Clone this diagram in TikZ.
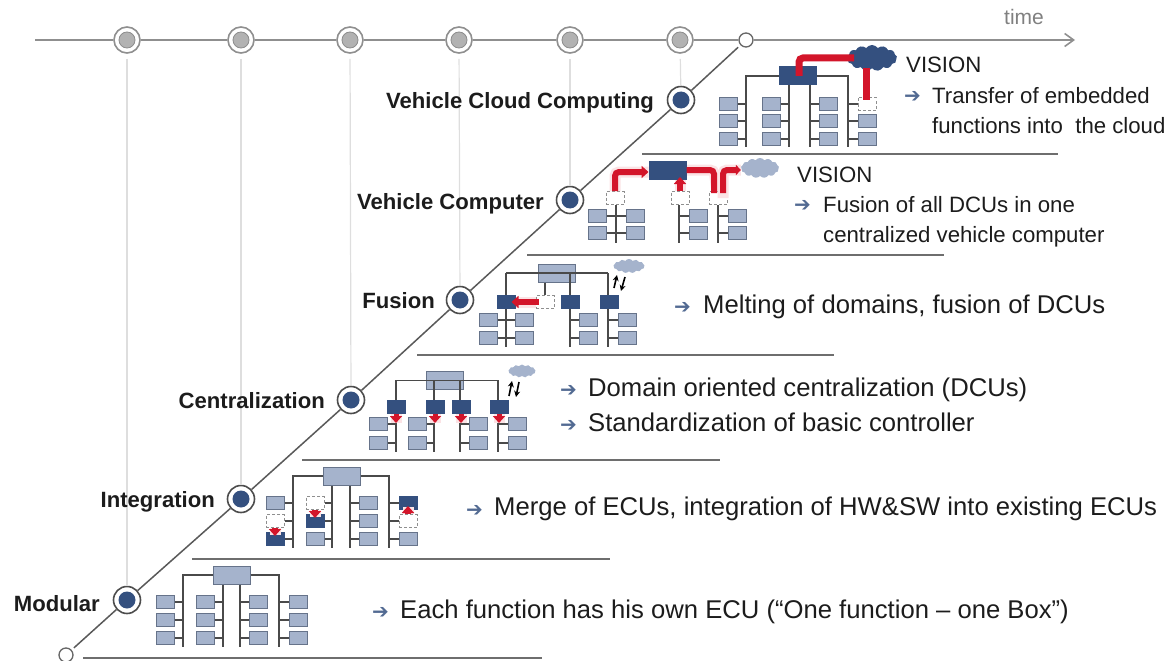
\documentclass[tikz,border=0pt]{standalone}
\usepackage{fontspec}
\setmainfont{Liberation Sans}
\newfontfamily\arrowfont{DejaVu Sans}
\usetikzlibrary{shapes.symbols,arrows.meta}
\definecolor{boxfill}{HTML}{A5B3CC}
\definecolor{boxline}{HTML}{66738A}
\definecolor{navy}{HTML}{34507F}
\definecolor{wirec}{HTML}{4A4A4A}
\definecolor{rulec}{HTML}{6E6E6E}
\definecolor{mygray}{HTML}{8F8F8F}
\definecolor{redc}{HTML}{D3152A}
\definecolor{glowc}{HTML}{FBE3E5}
\definecolor{inkc}{HTML}{1C1C1C}
\tikzset{
 x=1pt,y=-1pt,
 leaf/.style={draw=boxline,fill=boxfill,line width=1pt,minimum width=18pt,minimum height=13pt,inner sep=0pt},
 darkbox/.style={leaf,draw=navy,fill=navy},
 dashbox/.style={leaf,draw=mygray,fill=white,densely dashed},
 topbox/.style={leaf,minimum width=37pt,minimum height=18pt},
 topdark/.style={topbox,draw=navy,fill=navy},
 wire/.style={draw=wirec,line width=1.1pt},
 rulel/.style={draw=rulec,line width=1.5pt},
 guide/.style={draw=black!13,line width=1.2pt},
 tline/.style={draw=mygray,line width=1.6pt},
 diag/.style={draw=black!65,line width=1.5pt},
 tnode/.style={circle,draw=mygray,fill=white,line width=1.6pt,minimum size=26pt,inner sep=0pt},
 tdot/.style={circle,draw=black!45,fill=black!30,line width=.8pt,minimum size=16pt,inner sep=0pt},
 bnode/.style={circle,draw=black!70,fill=white,line width=1.6pt,minimum size=27pt,inner sep=0pt},
 bdot/.style={circle,fill=navy,minimum size=17pt,inner sep=0pt},
 opennode/.style={circle,draw=black!60,fill=white,line width=1.3pt,minimum size=14pt,inner sep=0pt},
 stagelabel/.style={font=\bfseries\fontsize{22.1}{24}\selectfont,text=inkc,anchor=base east,inner sep=0pt,yshift=-1pt},
 body/.style={font=\fontsize{25.65}{28}\selectfont,text=inkc,anchor=base west,inner sep=0pt,yshift=-.5pt},
 small/.style={font=\fontsize{22.2}{24}\selectfont,text=inkc,anchor=base west,inner sep=0pt,yshift=-1pt},
 bullet/.style={font=\arrowfont\bfseries\fontsize{20}{22}\selectfont,text=navy!85,anchor=base west,inner sep=0pt,yshift=-1.5pt},
 cloudn/.style={cloud,cloud puffs=13,cloud puff arc=110,aspect=2.2,inner sep=0pt,fill=boxfill,draw=none},
 redl/.style={draw=redc,line width=6pt,rounded corners=4pt},
 redar/.style={redl,-{Triangle[width=12pt,length=7pt]}},
 glow/.style={draw=glowc,line width=11pt,rounded corners=4pt},
 flip/.style={draw=black,line width=1.6pt,-{Stealth[width=6pt,length=6pt]}},
 tlab/.style={font=\fontsize{21}{23}\selectfont,text=black!50,inner sep=0pt}
}
\begin{document}
\begin{tikzpicture}
\useasboundingbox (0,0) rectangle (1168,661);
% timeline nodes
\foreach \n/\x in {1/127,2/241,3/350,4/459,5/570,6/680}{
  \node[tnode] (t\n) at (\x,40) {};
  \node[tdot] (td\n) at (t\n) {};
}
\node[opennode] (tend) at (746,40) {};
\node[opennode] (tstart) at (66,655) {};
\coordinate (ts) at (35,40);
\coordinate (te) at (1075,40);
\draw[tline] (ts) -- (t1) (t1) -- (t2) (t2) -- (t3) (t3) -- (t4) (t4) -- (t5) (t5) -- (t6) (t6) -- (tend);
\draw[tline,-{Straight Barb[length=9pt,width=13pt]}] (tend) -- (te);
\node[tlab] (timelab) at (1024,17) {time};
% stage nodes
\foreach \n/\x/\y in {1/127/600,2/241/499,3/351/400,4/460/300,5/570/200,6/681/100}{
  \node[bnode] (b\n) at (\x,\y) {};
  \node[bdot] (bd\n) at (b\n) {};
  \draw[guide,shorten <=5pt] (t\n) -- (b\n);
}
\draw[diag,shorten <=3pt] (tstart) -- (b1);
\draw[diag] (b1) -- (b2);
\draw[diag] (b2) -- (b3);
\draw[diag] (b3) -- (b4);
\draw[diag] (b4) -- (b5);
\draw[diag] (b5) -- (b6);
\draw[diag,shorten >=3pt] (b6) -- (tend);
% rules
\foreach \n/\a/\b/\y in {1/83/542/658,2/192/610/559,3/302/720/460,4/417/834/355,5/527/944/255,6/642/1058/154}{
  \coordinate (ra\n) at (\a,\y);
  \coordinate (rb\n) at (\b,\y);
  \draw[rulel] (ra\n) -- (rb\n);
}
% stage labels
\node[stagelabel] (l1) at (100,610) {Modular};
\node[stagelabel] (l2) at (215,506) {Integration};
\node[stagelabel] (l3) at (325,407) {Centralization};
\node[stagelabel] (l4) at (435,307) {Fusion};
\node[stagelabel] (l5) at (544,208) {Vehicle Computer};
\node[stagelabel] (l6) at (654,107) {Vehicle Cloud Computing};

% ---- Modular
\node[topbox] (mT) at (231.5,575) {};
\foreach \n/\x/\y in {a/183/647,b/223/647,c/240/647,d/279/647}{\coordinate (m\n) at (\x,\y);}
\draw[wire] (mT.west) -- (mT.west -| ma) -- (ma);
\draw[wire] (mT.east) -- (mT.east -| md) -- (md);
\draw[wire] (mT.south -| mb) -- (mb);
\draw[wire] (mT.south -| mc) -- (mc);
\foreach \n/\x/\y/\s/\t in {
 mA1/165/602/leaf/ma,mA2/165/620/leaf/ma,mA3/165/638/leaf/ma,
 mB1/205/602/leaf/mb,mB2/205/620/leaf/mb,mB3/205/638/leaf/mb,
 mC1/258/602/leaf/mc,mC2/258/620/leaf/mc,mC3/258/638/leaf/mc,
 mD1/298/602/leaf/md,mD2/298/620/leaf/md,mD3/298/638/leaf/md}{
  \node[\s] (\n) at (\x,\y) {};
  \draw[wire] (\n) -- (\n -| \t);
}
% ---- Integration
\node[topbox] (iT) at (341.5,476) {};
\foreach \n/\x/\y in {a/293/548,b/332/548,c/350/548,d/389/548}{\coordinate (i\n) at (\x,\y);}
\draw[wire] (iT.west) -- (iT.west -| ia) -- (ia);
\draw[wire] (iT.east) -- (iT.east -| id) -- (id);
\draw[wire] (iT.south -| ib) -- (ib);
\draw[wire] (iT.south -| ic) -- (ic);
\foreach \n/\x/\y/\s/\t in {
 iA1/275/503/leaf/ia,iA2/275/521/dashbox/ia,iA3/275/539/darkbox/ia,
 iB1/315/503/dashbox/ib,iB2/315/521/darkbox/ib,iB3/315/539/leaf/ib,
 iC1/368/503/leaf/ic,iC2/368/521/leaf/ic,iC3/368/539/leaf/ic,
 iD1/408/503/darkbox/id,iD2/408/521/dashbox/id,iD3/408/539/leaf/id}{
  \node[\s] (\n) at (\x,\y) {};
  \draw[wire] (\n) -- (\n -| \t);
}
\draw[glow] (iA2) -- ([yshift=-3pt]iA3.north);
\draw[glow] (iB1) -- ([yshift=-3pt]iB2.north);
\draw[glow] (iD2) -- ([yshift=3pt]iD1.south);
\draw[redar] (iA2) -- ([yshift=-4pt]iA3.north);
\draw[redar] (iB1) -- ([yshift=-4pt]iB2.north);
\draw[redar] (iD2) -- ([yshift=4pt]iD1.south);
% ---- Centralization
\node[topbox] (cT) at (445,380.5) {};
\foreach \n/\x/\y in {a/396/452,b/434/452,c/460/452,d/498/452}{\coordinate (c\n) at (\x,\y);}
\draw[wire] (cT.west) -- (cT.west -| ca) -- (ca);
\draw[wire] (cT.east) -- (cT.east -| cd) -- (cd);
\draw[wire] (cT.west -| ca) -- (cT.east -| cd);
\draw[wire] (cT.center -| cb) -- (cb);
\draw[wire] (cT.center -| cc) -- (cc);
\foreach \n/\x/\t in {A/396/ca,B/435/cb,C/461/cc,D/499/cd}{
  \node[darkbox] (cD\n) at (\x,407) {};
  \coordinate (cE\n) at (\x,423);
  \draw[glow] (cD\n.south) -- (cE\n);
  \draw[redar,line width=5pt] (cD\n.south) -- (cE\n);
}
\foreach \n/\x/\y/\s/\t in {
 cA1/378/424/leaf/ca,cA2/378/443/leaf/ca,
 cB1/417/424/leaf/cb,cB2/417/443/leaf/cb,
 cC1/478/424/leaf/cc,cC2/478/443/leaf/cc,
 cD1/517/424/leaf/cd,cD2/517/443/leaf/cd}{
  \node[\s] (\n) at (\x,\y) {};
  \draw[wire] (\n) -- (\n -| \t);
}
\node[cloudn,minimum width=27pt,minimum height=13pt] (cCl) at (522,371) {};
\coordinate (cf1) at (509,396); \coordinate (cf2) at (512,381);
\coordinate (cf3) at (519,382); \coordinate (cf4) at (516,397);
\draw[flip] (cf1) -- (cf2);
\draw[flip] (cf3) -- (cf4);
% ---- Fusion
\node[topbox] (fT) at (557,273) {};
\foreach \n/\x/\y in {a/506/347,b/570/347,c/608/347}{\coordinate (f\n) at (\x,\y);}
\draw[wire] (fT.west -| fa) -- (fT.east -| fc);
\draw[wire] (fT.west -| fa) -- (fa);
\draw[wire] (fT.east -| fc) -- (fc);
\draw[wire] (fT.center -| fb) -- (fb);
\node[darkbox] (fD1) at (506,302) {};
\node[dashbox] (fD2) at (545,302) {};
\node[darkbox] (fD3) at (570,302) {};
\node[darkbox] (fD4) at (609,302) {};
\draw[wire] (fT.south -| fD2) -- (fD2);
\draw[glow] (fD2.west) -- (fD1.east);
\draw[redar,shorten >=-2pt] ([xshift=3pt]fD2.west) -- ([xshift=-2pt]fD1.east);
\foreach \n/\x/\y/\s/\t in {
 fA1/488/320/leaf/fa,fA2/488/338/leaf/fa,
 fB1/524/320/leaf/fa,fB2/524/338/leaf/fa,
 fC1/588/320/leaf/fb,fC2/588/338/leaf/fb,
 fE1/627/320/leaf/fc,fE2/627/338/leaf/fc}{
  \node[\s] (\n) at (\x,\y) {};
  \draw[wire] (\n) -- (\n -| \t);
}
\node[cloudn,minimum width=31pt,minimum height=14pt] (fCl) at (629,266) {};
\coordinate (ff1) at (614,288); \coordinate (ff2) at (617,275);
\coordinate (ff3) at (625,277); \coordinate (ff4) at (621,291);
\draw[flip] (ff1) -- (ff2);
\draw[flip] (ff3) -- (ff4);
% ---- Vehicle Computer
\node[topdark] (vT) at (667.5,170.5) {};
\node[dashbox] (vD1) at (615,198) {};
\node[dashbox] (vD2) at (680,198) {};
\node[dashbox] (vD3) at (718,198) {};
\foreach \n/\x/\y in {a/616/243,b/679/243,c/718/243}{\coordinate (v\n) at (\x,\y);}
\draw[wire] (vD1.south -| va) -- (va);
\draw[wire] (vD2.south -| vb) -- (vb);
\draw[wire] (vD3.south -| vc) -- (vc);
\foreach \n/\x/\y/\s/\t in {
 vA1/597/216/leaf/va,vA2/597/233/leaf/va,
 vB1/635/216/leaf/va,vB2/635/233/leaf/va,
 vC1/698/216/leaf/vb,vC2/698/233/leaf/vb,
 vE1/737/216/leaf/vc,vE2/737/233/leaf/vc}{
  \node[\s] (\n) at (\x,\y) {};
  \draw[wire] (\n) -- (\n -| \t);
}
\node[cloudn,minimum width=38pt,minimum height=20pt] (vCl) at (760,168) {};
\coordinate (vp1) at (615,172);
\coordinate (vp2) at (714,170);
\coordinate (vp3) at (714,193);
\coordinate (vp4) at (723,193);
\coordinate (vp5) at (723,170);
\draw[glow] (vD1) -- (vp1) -- (vT.west |- vp1);
\draw[glow] (vD2) -- (vD2 |- vT.south);
\draw[glow] (vT.east |- vp2) -- (vp2) -- (vD3);
\draw[glow] (vD3 -| vp4) -- (vp5) -- (vCl.west |- vp5);
\node[topdark] (vT2) at (vT) {};
\draw[redar] (vD1) -- (vp1) -- (vT.west |- vp1);
\draw[redar,shorten >=-3pt] (vD2) -- (vD2 |- vT.south);
\draw[redl] (vT.east |- vp2) -- (vp2) -- (vp3);
\draw[redl,-{Triangle[width=10pt,length=5pt]}] (vp4) -- (vp5) -- (vCl.west |- vp5);
% ---- Cloud computing
\node[topdark] (kT) at (797.5,76) {};
\foreach \n/\x/\y in {a/746/147,b/789/147,c/810/147,d/848/147}{\coordinate (k\n) at (\x,\y);}
\draw[wire] (kT.west) -- (kT.west -| ka) -- (ka);
\draw[wire] (kT.east) -- (kT.east -| kd) -- (kd);
\draw[wire] (kT.south -| kb) -- (kb);
\draw[wire] (kT.south -| kc) -- (kc);
\foreach \n/\x/\y/\s/\t in {
 kA1/728/104/leaf/ka,kA2/728/121/leaf/ka,kA3/728/139/leaf/ka,
 kB1/771/104/leaf/kb,kB2/771/121/leaf/kb,kB3/771/139/leaf/kb,
 kC1/828/104/leaf/kc,kC2/828/121/leaf/kc,kC3/828/139/leaf/kc,
 kD1/867/104/dashbox/kd,kD2/867/121/leaf/kd,kD3/867/139/leaf/kd}{
  \node[\s] (\n) at (\x,\y) {};
  \draw[wire] (\n) -- (\n -| \t);
}
\node[cloudn,fill=navy,minimum width=50pt,minimum height=26pt] (kCl) at (872,58) {};
\coordinate (kp1) at (799,58);
\coordinate (kp2) at (854,58);
\coordinate (kp3) at (866,68);
\coordinate (kp4) at (866,100);
\draw[redl,line width=7pt] (kT.center -| kp1) -- (kp1) -- (kp2);
\draw[redl,line width=7pt] (kp3) -- (kp4);
% ---- Texts
\node[bullet] (x1) at (372,617) {➔};
\node[body] (t1a) at (400,618) {Each function has his own ECU (“One function – one Box”)};
\node[bullet] (x2) at (466,515) {➔};
\node[body] (t2a) at (494,515) {Merge of ECUs, integration of HW\&SW into existing ECUs};
\node[bullet] (x3) at (560,395) {➔};
\node[body] (t3a) at (588,396) {Domain oriented centralization (DCUs)};
\node[bullet] (x4) at (560,430) {➔};
\node[body] (t3b) at (588,431) {Standardization of basic controller};
\node[bullet] (x5) at (674,312) {➔};
\node[body] (t4a) at (703,313) {Melting of domains, fusion of DCUs};
\node[small] (t5a) at (797,181) {VISION};
\node[bullet] (x6) at (794,210) {➔};
\node[small] (t5b) at (823,211) {Fusion of all DCUs in one};
\node[small] (t5c) at (823,241) {centralized vehicle computer};
\node[small] (t6a) at (906,72) {VISION};
\node[bullet] (x7) at (904,101) {➔};
\node[small] (t6b) at (932,102) {Transfer of embedded};
\node[small] (t6c) at (932,132) {functions into\ \ the cloud};
\end{tikzpicture}
\end{document}
